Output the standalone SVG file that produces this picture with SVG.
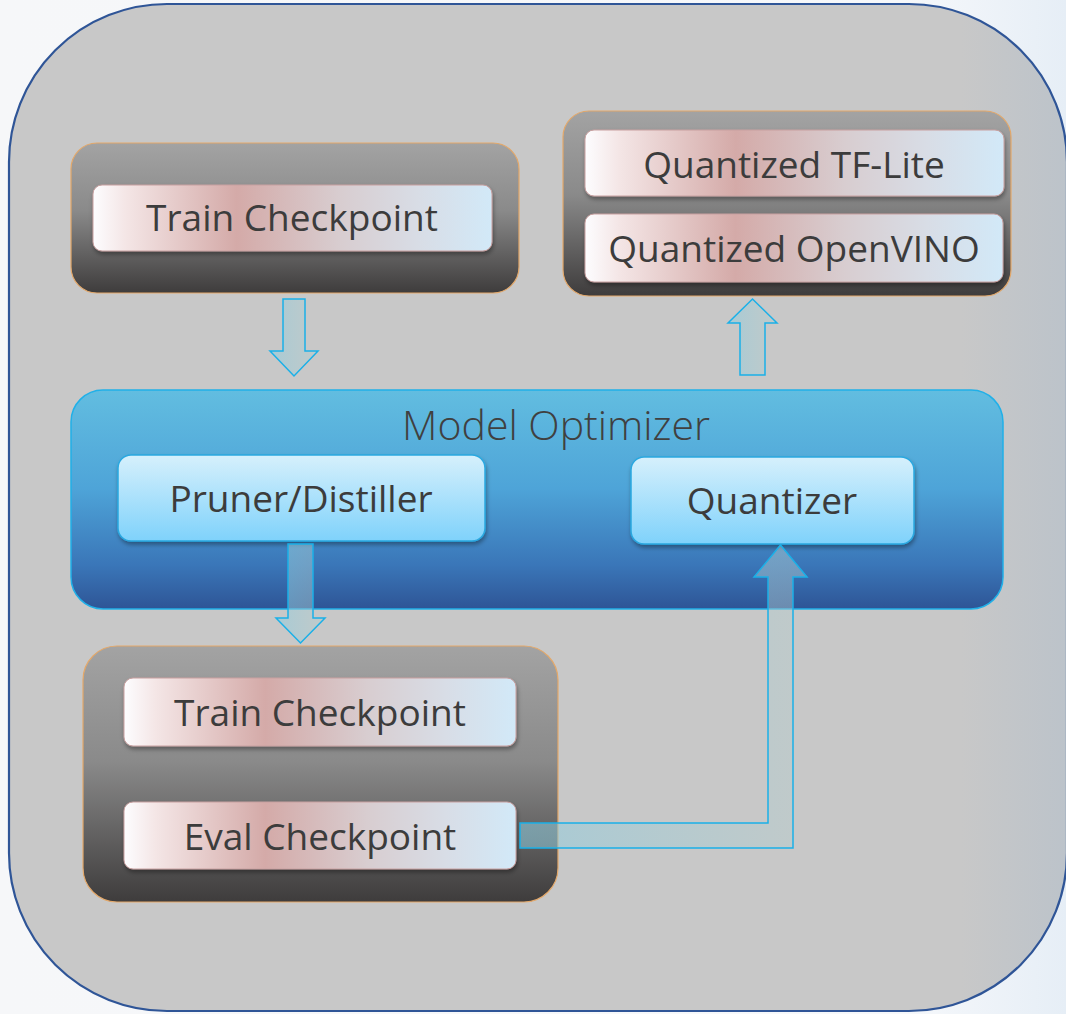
<svg xmlns="http://www.w3.org/2000/svg" width="1066" height="1014" viewBox="0 0 1066 1014">
<defs>
<style>
.lbl{font-family:"Open Sans","Noto Sans",sans-serif;font-size:37px;fill:#3c3c3c;text-anchor:middle}
.title{font-family:"Open Sans","Noto Sans",sans-serif;font-weight:300;font-size:41px;fill:#404040;text-anchor:middle}
.grp{fill:url(#grpG);stroke:#e3a86a;stroke-width:1.2}
.pill{fill:url(#pillG);stroke:#c8a0a0;stroke-width:1;filter:url(#sh)}
.blue{fill:url(#blueBox);stroke:#2aa8e0;stroke-width:1.5;filter:url(#sh)}
.arr{fill:url(#arrG);stroke:#1ab0e8;stroke-width:1.5}
</style>
<linearGradient id="bg" x1="0" y1="0" x2="1" y2="0">
<stop offset="0" stop-color="#f6f7f9"/><stop offset="0.85" stop-color="#f6f8fb"/><stop offset="1" stop-color="#e6eef6"/>
</linearGradient>
<linearGradient id="cont" x1="0" y1="0" x2="1" y2="0">
<stop offset="0" stop-color="#c8c8c8"/><stop offset="0.9" stop-color="#c8c8c8"/><stop offset="1" stop-color="#bcc3ca"/>
</linearGradient>
<linearGradient id="grpG" x1="0" y1="0" x2="0" y2="1">
<stop offset="0" stop-color="#a3a3a3"/><stop offset="0.45" stop-color="#8a8a8a"/><stop offset="1" stop-color="#3e3c3c"/>
</linearGradient>
<linearGradient id="pillG" x1="0" y1="0" x2="1" y2="0">
<stop offset="0" stop-color="#fdfdff"/><stop offset="0.08" stop-color="#f4e6e6"/><stop offset="0.36" stop-color="#d4aaa8"/><stop offset="0.62" stop-color="#d8cdd0"/><stop offset="0.82" stop-color="#d8dde6"/><stop offset="1" stop-color="#d2e9f8"/>
</linearGradient>
<linearGradient id="optG" x1="0" y1="0" x2="0" y2="1">
<stop offset="0" stop-color="#62bde0"/><stop offset="0.45" stop-color="#4ea4d8"/><stop offset="0.8" stop-color="#3a76b8"/><stop offset="1" stop-color="#2e5596"/>
</linearGradient>
<linearGradient id="blueBox" x1="0" y1="0" x2="0" y2="1">
<stop offset="0" stop-color="#d6f0fc"/><stop offset="1" stop-color="#7fd2fb"/>
</linearGradient>
<linearGradient id="arrG" x1="0" y1="0" x2="1" y2="0">
<stop offset="0" stop-color="#8ccde0" stop-opacity="0.55"/><stop offset="1" stop-color="#b8cccc" stop-opacity="0.45"/>
</linearGradient>
<filter id="sh" x="-10%" y="-20%" width="120%" height="150%">
<feDropShadow dx="1" dy="3" stdDeviation="2" flood-color="#000" flood-opacity="0.35"/>
</filter>
</defs>
<rect width="1066" height="1014" fill="url(#bg)"/>
<g id="container">
<rect x="9" y="4" width="1058" height="1007" rx="158" ry="158" fill="url(#cont)" stroke="#2f5597" stroke-width="2.2"/>
</g>
<g id="train-group-top">
<rect class="grp" x="71" y="143" width="448" height="150" rx="26"/>
<g id="train-checkpoint-top">
<rect class="pill" x="93" y="185" width="399" height="66" rx="9"/>
<text class="lbl" x="292" y="231">Train Checkpoint</text>
</g>
</g>
<g id="quantized-group">
<rect class="grp" x="563" y="111" width="448" height="185" rx="26"/>
<g id="quantized-tflite">
<rect class="pill" x="585" y="130" width="419" height="66" rx="9"/>
<text class="lbl" x="794" y="178">Quantized TF-Lite</text>
</g>
<g id="quantized-openvino">
<rect class="pill" x="585" y="214" width="418" height="68" rx="9"/>
<text class="lbl" x="794" y="262">Quantized OpenVINO</text>
</g>
</g>
<g id="model-optimizer">
<rect x="71" y="390" width="932" height="219" rx="32" fill="url(#optG)" stroke="#20b0e8" stroke-width="1.5"/>
<text class="title" x="556" y="440">Model Optimizer</text>
<g id="pruner-distiller">
<rect class="blue" x="118" y="455" width="367" height="86" rx="13"/>
<text class="lbl" x="301" y="512">Pruner/Distiller</text>
</g>
<g id="quantizer">
<rect class="blue" x="631" y="457" width="283" height="87" rx="13"/>
<text class="lbl" x="772" y="514">Quantizer</text>
</g>
</g>
<g id="train-eval-group">
<rect class="grp" x="83" y="646" width="475" height="256" rx="34"/>
<g id="train-checkpoint-bottom">
<rect class="pill" x="124" y="678" width="392" height="68" rx="9"/>
<text class="lbl" x="320" y="726">Train Checkpoint</text>
</g>
<g id="eval-checkpoint">
<rect class="pill" x="124" y="802" width="392" height="67" rx="9"/>
<text class="lbl" x="320" y="850">Eval Checkpoint</text>
</g>
</g>
<g id="connectors">
<path class="arr" d="M283,299 H305 V351 H318 L294,376 L270,351 H283 Z"/>
<path class="arr" d="M740,375 V323 H728 L752.5,299 L777,323 H765 V375 Z"/>
<path class="arr" d="M288,544 H313 V618 H325 L300.5,643 L276,618 H288 Z"/>
<path class="arr" d="M520,823 H768 V577 H754 L780.5,545 L807,577 H793 V848 H520 Z"/>
</g>
</svg>
